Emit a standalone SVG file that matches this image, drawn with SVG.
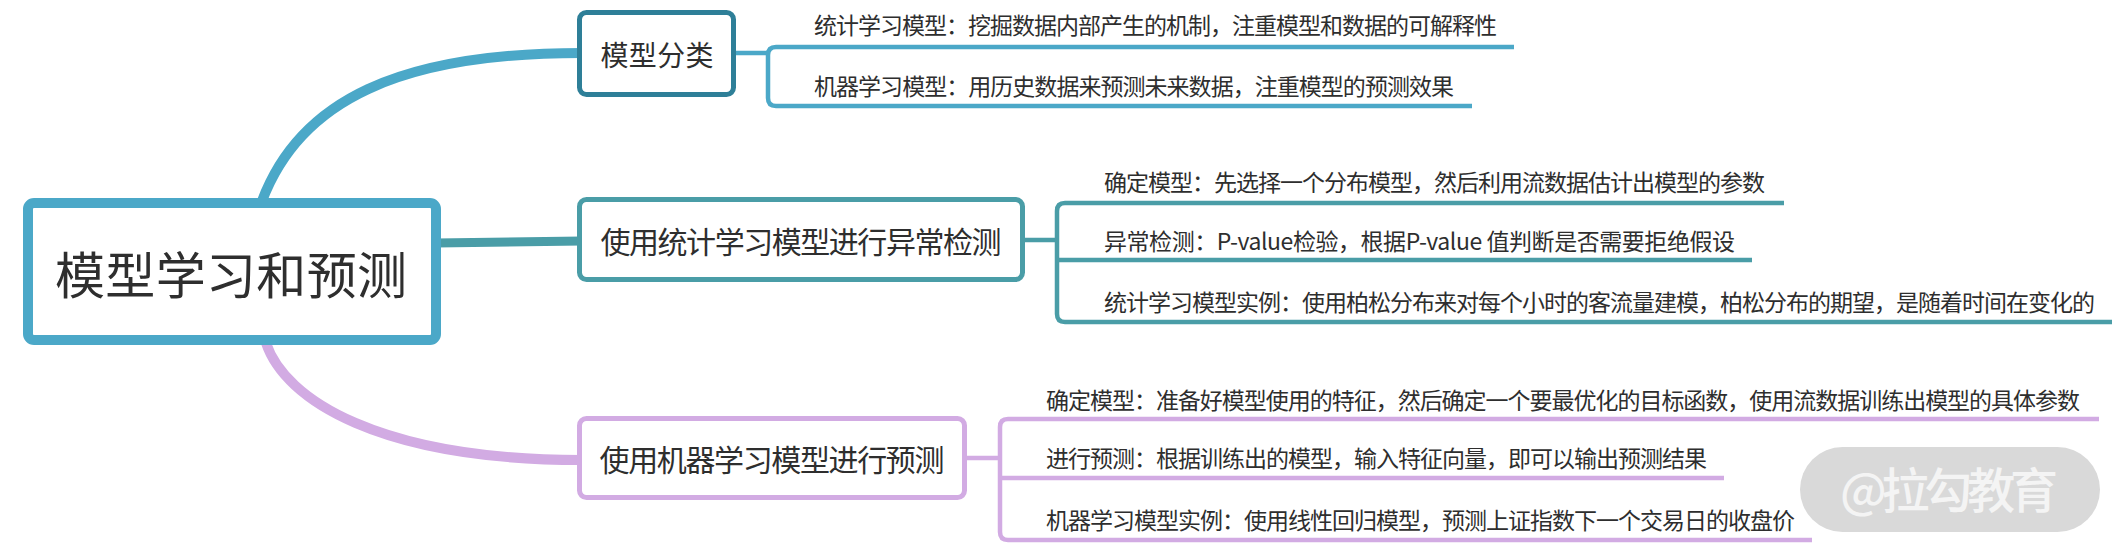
<svg xmlns="http://www.w3.org/2000/svg" width="2128" height="560" viewBox="0 0 2128 560">
<style>
.t{font-family:"Noto Sans CJK SC","Noto Sans",sans-serif;fill:#2e2e2e}
.c{font-size:23px}
.box{fill:#ffffff}
.ln{fill:none;stroke-linecap:butt;stroke-linejoin:round}
</style>
<rect width="2128" height="560" fill="#ffffff"/>
<g id="connectors">
  <path class="ln" d="M 262 201 C 300 100, 400 53, 582 53" stroke="#4ba8c8" stroke-width="10"/>
  <path class="ln" d="M 436 243 L 582 241" stroke="#4a9da7" stroke-width="9"/>
  <path class="ln" d="M 266 343 C 285 400, 380 460, 582 460" stroke="#d2abe3" stroke-width="10"/>
  <path class="ln" d="M 734 53 H 768" stroke="#4ba8c8" stroke-width="4.5"/>
  <path class="ln" d="M 1514 47 H 776 Q 768 47 768 55 V 98 Q 768 106 776 106 H 1472" stroke="#4ba8c8" stroke-width="4.5"/>
  <path class="ln" d="M 1023 240 H 1057" stroke="#4a9da7" stroke-width="4.5"/>
  <path class="ln" d="M 1784 203 H 1065 Q 1057 203 1057 211 V 314 Q 1057 322 1065 322 H 2112" stroke="#4a9da7" stroke-width="4.5"/>
  <path class="ln" d="M 1057 260 H 1752" stroke="#4a9da7" stroke-width="4.5"/>
  <path class="ln" d="M 965 458 H 1000" stroke="#d2abe3" stroke-width="4.5"/>
  <path class="ln" d="M 2099 419 H 1008 Q 1000 419 1000 427 V 532 Q 1000 540 1008 540 H 1812" stroke="#d2abe3" stroke-width="4.5"/>
  <path class="ln" d="M 1000 478 H 1724" stroke="#d2abe3" stroke-width="4.5"/>
</g>
<g id="root">
  <rect class="box" x="28" y="203" width="408" height="137" rx="6" stroke="#4ba8c8" stroke-width="10"/>
  <text class="t" x="231" y="294" font-size="50" text-anchor="middle" textLength="352">模型学习和预测</text>
</g>
<g id="node-classify">
  <rect class="box" x="579.5" y="12.5" width="154" height="82" rx="7" stroke="#2e7f98" stroke-width="5"/>
  <text class="t" x="657" y="66" font-size="28" text-anchor="middle" textLength="113">模型分类</text>
</g>
<g id="node-classify-1">
  <text class="t c" x="814" y="34" textLength="683">统计学习模型：挖掘数据内部产生的机制，注重模型和数据的可解释性</text>
</g>
<g id="node-classify-2">
  <text class="t c" x="814" y="95" textLength="640">机器学习模型：用历史数据来预测未来数据，注重模型的预测效果</text>
</g>
<g id="node-stat">
  <rect class="box" x="579.5" y="199.5" width="443" height="80" rx="7" stroke="#4a9da7" stroke-width="5"/>
  <text class="t" x="801" y="253" font-size="30" text-anchor="middle" textLength="401">使用统计学习模型进行异常检测</text>
</g>
<g id="node-stat-1">
  <text class="t c" x="1104" y="191" textLength="661">确定模型：先选择一个分布模型，然后利用流数据估计出模型的参数</text>
</g>
<g id="node-stat-2">
  <text class="t c" x="1104" y="250" textLength="631">异常检测：P-value检验，根据P-value 值判断是否需要拒绝假设</text>
</g>
<g id="node-stat-3">
  <text class="t c" x="1104" y="311" textLength="991">统计学习模型实例：使用柏松分布来对每个小时的客流量建模，柏松分布的期望，是随着时间在变化的</text>
</g>
<g id="node-ml">
  <rect class="box" x="579.5" y="418.5" width="385" height="79" rx="7" stroke="#d2abe3" stroke-width="5"/>
  <text class="t" x="772" y="471" font-size="30" text-anchor="middle" textLength="345">使用机器学习模型进行预测</text>
</g>
<g id="node-ml-1">
  <text class="t c" x="1046" y="409" textLength="1034">确定模型：准备好模型使用的特征，然后确定一个要最优化的目标函数，使用流数据训练出模型的具体参数</text>
</g>
<g id="node-ml-2">
  <text class="t c" x="1046" y="467" textLength="661">进行预测：根据训练出的模型，输入特征向量，即可以输出预测结果</text>
</g>
<g id="node-ml-3">
  <text class="t c" x="1046" y="529" textLength="749">机器学习模型实例：使用线性回归模型，预测上证指数下一个交易日的收盘价</text>
</g>
<g id="watermark">
  <rect x="1800" y="447" width="300" height="85" rx="42.5" fill="#d9d9d9"/>
  <text x="1949" y="508" font-family="'Noto Sans CJK SC','Noto Sans',sans-serif" font-size="48" font-weight="500" text-anchor="middle" fill="#f4f4f4" textLength="218">@拉勾教育</text>
</g>
</svg>
